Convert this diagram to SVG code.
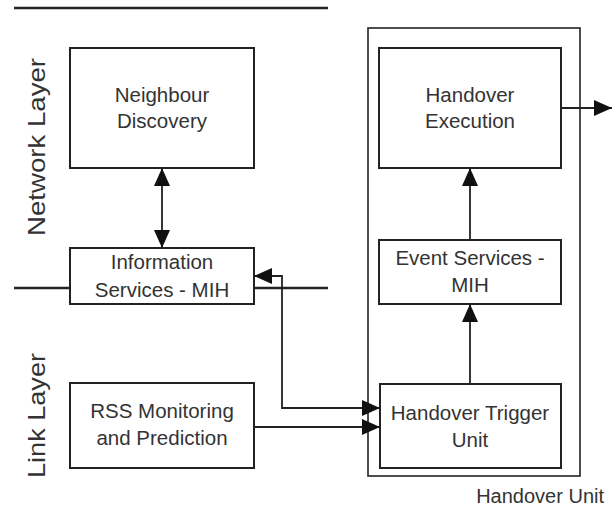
<svg xmlns="http://www.w3.org/2000/svg" width="612" height="506" viewBox="0 0 612 506">
  <style>
    .box { fill: #ffffff; stroke: #222222; stroke-width: 2; }
    .frame { fill: none; stroke: #222222; stroke-width: 1.6; }
    .sep { stroke: #222222; stroke-width: 2.4; fill: none; }
    .wire { stroke: #222222; stroke-width: 1.8; fill: none; }
    .label { font-family: "Liberation Sans", Arial, sans-serif; font-size: 20.5px; fill: #333333; text-anchor: middle; }
    .layer { font-family: "Liberation Sans", Arial, sans-serif; font-size: 24px; fill: #333333; text-anchor: middle; }
    .caption { font-family: "Liberation Sans", Arial, sans-serif; font-size: 20px; fill: #333333; text-anchor: end; }
  </style>
  <defs>
    <marker id="head" markerUnits="userSpaceOnUse" markerWidth="18" markerHeight="16" refX="18" refY="8" orient="auto-start-reverse">
      <path d="M0,0 L18,8 L0,16 Z" fill="#111111"/>
    </marker>
  </defs>
  <rect width="612" height="506" fill="#ffffff"/>

  <!-- layer separators -->
  <g id="separators">
    <line class="sep" x1="14" y1="8" x2="328" y2="8"/>
    <line class="sep" x1="14" y1="288" x2="328" y2="288"/>
  </g>

  <!-- layer names -->
  <text class="layer" transform="translate(45,147) rotate(-90)" textLength="178" lengthAdjust="spacingAndGlyphs">Network Layer</text>
  <text class="layer" transform="translate(45,415.5) rotate(-90)" textLength="125" lengthAdjust="spacingAndGlyphs">Link Layer</text>

  <!-- handover unit container -->
  <g id="handover-unit">
    <rect class="frame" x="368" y="28" width="212" height="448"/>
    <text class="caption" x="604" y="503">Handover Unit</text>
  </g>

  <g id="neighbour-discovery">
    <rect class="box" x="70" y="48" width="184" height="120"/>
    <text class="label" x="162" y="102">Neighbour</text>
    <text class="label" x="162" y="128">Discovery</text>
  </g>

  <g id="information-services">
    <rect class="box" x="70" y="248" width="184" height="56"/>
    <text class="label" x="162" y="269">Information</text>
    <text class="label" x="162" y="297">Services - MIH</text>
  </g>

  <g id="rss-monitoring">
    <rect class="box" x="70" y="383" width="184" height="85"/>
    <text class="label" x="162" y="418">RSS Monitoring</text>
    <text class="label" x="162" y="445">and Prediction</text>
  </g>

  <g id="handover-execution">
    <rect class="box" x="379" y="48" width="182" height="120"/>
    <text class="label" x="470" y="102">Handover</text>
    <text class="label" x="470" y="128">Execution</text>
  </g>

  <g id="event-services">
    <rect class="box" x="379" y="240" width="182" height="64"/>
    <text class="label" x="470" y="265">Event Services -</text>
    <text class="label" x="470" y="292">MIH</text>
  </g>

  <g id="handover-trigger">
    <rect class="box" x="380" y="384" width="181" height="84"/>
    <text class="label" x="470" y="420">Handover Trigger</text>
    <text class="label" x="470" y="447">Unit</text>
  </g>

  <!-- connectors -->
  <g id="connectors">
    <line class="wire" x1="162" y1="168" x2="162" y2="248" marker-start="url(#head)" marker-end="url(#head)"/>
    <line class="wire" x1="470" y1="240" x2="470" y2="168" marker-end="url(#head)"/>
    <line class="wire" x1="470" y1="384" x2="470" y2="304" marker-end="url(#head)"/>
    <line class="wire" x1="561" y1="108" x2="612" y2="108" marker-end="url(#head)"/>
    <polyline class="wire" points="254,276 282,276 282,408 380,408" marker-start="url(#head)" marker-end="url(#head)"/>
    <line class="wire" x1="254" y1="427" x2="380" y2="427" marker-end="url(#head)"/>
  </g>
</svg>
